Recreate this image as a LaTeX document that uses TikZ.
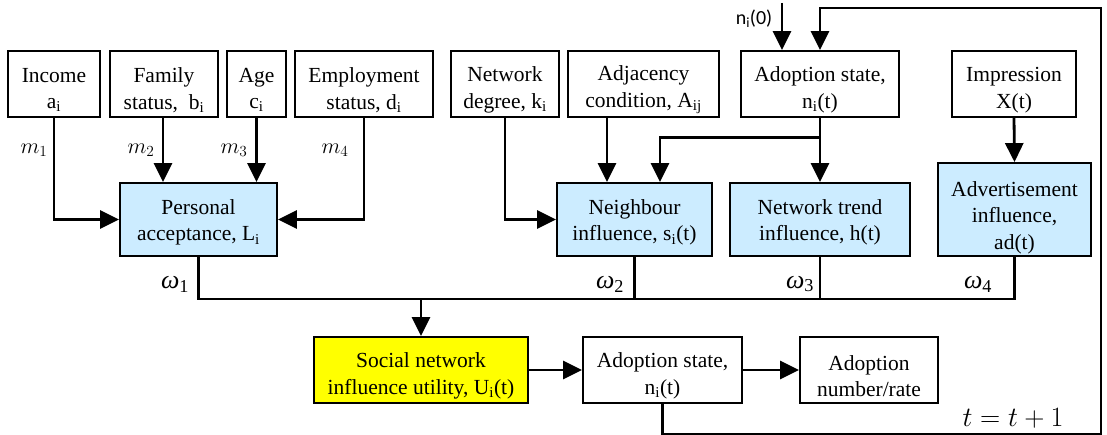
\RequirePackage{fix-cm}
\documentclass[tikz,border=0pt]{standalone}
\usepackage{fontspec}
\setmainfont{Liberation Serif}
\newfontfamily\carl{Carlito}
\usetikzlibrary{arrows.meta,calc}
\definecolor{lblue}{RGB}{204,236,255}
\definecolor{yel}{RGB}{255,255,0}
\newcommand\ssb[1]{\textsubscript{#1}}
\begin{document}
\begin{tikzpicture}[x=1pt,y=-1pt,
  box/.style={draw,line width=1.8pt,inner sep=0pt,minimum height=66pt},
  bluebox/.style={box,fill=lblue,minimum height=73pt},
  txt/.style={inner sep=0pt,align=center,font=\fontsize{21.5}{26.5}\selectfont},
  conn/.style={line width=2.8pt},
  arr/.style={conn,-{Triangle[length=19pt,width=18pt]}},
  mlab/.style={inner sep=0pt,font=\fontsize{22}{26}\selectfont},
  wlab/.style={inner sep=0pt,font=\fontsize{26}{30}\selectfont}
]
\useasboundingbox (0,0) rectangle (1107,435);
% top row
\node[box,minimum width=92pt] (inc) at (54,84) {};
\node[box,minimum width=108pt] (fam) at (164,84) {};
\node[box,minimum width=59pt] (age) at (256.5,84) {};
\node[box,minimum width=138pt] (emp) at (364,84) {};
\node[box,minimum width=108pt] (deg) at (505,84) {};
\node[box,minimum width=151pt] (adj) at (643.5,84) {};
\node[box,minimum width=158pt] (ado) at (820,84) {};
\node[box,minimum width=124pt] (imp) at (1014,84) {};
% middle row
\node[bluebox,minimum width=157pt] (pers) at (198.5,219.5) {};
\node[bluebox,minimum width=155pt] (nei) at (634.5,219.5) {};
\node[bluebox,minimum width=180pt] (trd) at (820,219.5) {};
\node[bluebox,minimum width=153pt,minimum height=93pt] (adv) at (1014.5,209.5) {};
% bottom row
\node[box,fill=yel,minimum width=214pt] (soc) at (421,370) {};
\node[box,minimum width=159pt] (ado2) at (662.5,370) {};
\node[box,minimum width=138pt] (num) at (869,370) {};
% box texts
\node[txt] (inc-t) at ([yshift=-6pt]inc.center) {Income\\a\ssb{i}};
\node[txt] (fam-t) at ([yshift=-6pt]fam.center) {Family\\status,\ \ b\ssb{i}};
\node[txt] (age-t) at ([yshift=-6pt]age.center) {Age\\c\ssb{i}};
\node[txt] (emp-t) at ([yshift=-6pt]emp.center) {Employment\\status, d\ssb{i}};
\node[txt] (deg-t) at ([yshift=-6pt]deg.center) {Network\\degree, k\ssb{i}};
\node[txt] (adj-t) at ([yshift=-6pt]adj.center) {Adjacency\\condition, A\ssb{ij}};
\node[txt] (ado-t) at ([yshift=-6pt]ado.center) {Adoption state,\\n\ssb{i}(t)};
\node[txt] (imp-t) at ([yshift=-6pt]imp.center) {Impression\\X(t)};
\node[txt] (pers-t) at ([yshift=-3pt]pers.center) {Personal\\acceptance, L\ssb{i}};
\node[txt] (nei-t) at ([yshift=-3pt]nei.center) {Neighbour\\influence, s\ssb{i}(t)};
\node[txt] (trd-t) at ([yshift=-3pt]trd.center) {Network trend\\influence, h(t)};
\node[txt] (adv-t) at ([yshift=-8pt]adv.center) {Advertisement\\influence,\\ad(t)};
\node[txt] (soc-t) at ([yshift=-6pt]soc.center) {Social network\\influence utility, U\ssb{i}(t)};
\node[txt] (ado2-t) at ([yshift=-6pt]ado2.center) {Adoption state,\\n\ssb{i}(t)};
\node[txt] (num-t) at ([yshift=-6pt]num.center) {Adoption\\number/rate};
% inputs to personal acceptance
\draw[arr] (inc.south) |- (pers.west);
\draw[arr] ([xshift=-1pt]fam.south) -- ([xshift=-1pt]fam.south |- pers.north);
\draw[arr] (age.south) -- (age.south |- pers.north);
\draw[arr] (emp.south) |- (pers.east);
% inputs to neighbour influence
\draw[arr] (deg.south) |- (nei.west);
\draw[arr] ([xshift=-36.5pt]adj.south) -- ([xshift=-36.5pt]adj.south |- nei.north);
\draw[arr] (ado.south) -- (trd.north);
\draw[arr] (ado.south) -- ++(0,20) -| ([xshift=25.5pt]nei.north);
\draw[arr] (imp.south) -- (adv.north);
% initial state
\coordinate (n0) at (782,3);
\draw[arr] (n0) -- (n0 |- ado.north);
\node[inner sep=0pt,font=\carl\fontsize{20}{24}\selectfont] (n0l) at (754,19) {n\textsubscript{i}(0)};
% weighted sum bus
\coordinate (bus) at (0,299);
\draw[conn] (pers.south) -- (pers.south |- bus) -- (adv.south |- bus) -- (adv.south);
\draw[conn] (nei.south) -- (nei.south |- bus);
\draw[conn] (trd.south) -- (trd.south |- bus);
\draw[arr] (soc.north |- bus) -- (soc.north);
\draw[arr] (soc.east) -- (ado2.west);
\draw[arr] (ado2.east) -- (num.west);
% feedback
\coordinate (fbr) at (1101,8);
\draw[arr] (ado2.south) -- ++(0,30) -| (fbr) -| (ado.north);
% labels
\node[mlab] (m1) at (34,150) {$m_1$};
\node[mlab] (m2) at (141,150) {$m_2$};
\node[mlab] (m3) at (234,150) {$m_3$};
\node[mlab] (m4) at (335,150) {$m_4$};
\node[wlab] (w1) at (175,284) {\textit{ω}\ssb{1}};
\node[wlab] (w2) at (610,284) {\textit{ω}\ssb{2}};
\node[wlab] (w3) at (800,284) {\textit{ω}\ssb{3}};
\node[wlab] (w4) at (978,284) {\textit{ω}\ssb{4}};
\node[inner sep=0pt,font=\fontsize{28}{32}\selectfont] (tt) at (1013,418) {$t=t+1$};
\end{tikzpicture}
\end{document}
